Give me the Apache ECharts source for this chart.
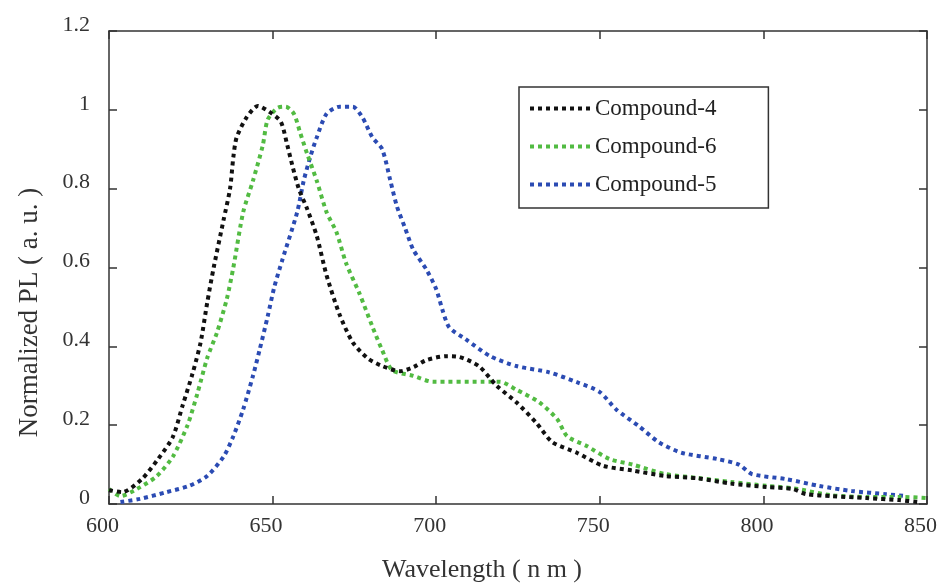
<!DOCTYPE html>
<html>
<head>
<meta charset="utf-8">
<script src="https://cdn.jsdelivr.net/npm/echarts@6/dist/echarts.min.js"></script>
<style>html,body{margin:0;padding:0;background:#fff;}#c{width:941px;height:588px;}</style>
</head>
<body>
<div id="c"></div>
<script>
const seriesNames = ['Compound-4', 'Compound-6', 'Compound-5'];
const xTicks = [600, 650, 700, 750, 800, 850];
const yTicks = [0, 0.2, 0.4, 0.6, 0.8, 1, 1.2];

const wl4 = [600, 604, 610, 615, 619.5, 622.5, 625.5, 628, 630, 632, 635, 637, 638, 639, 642, 645.5, 649, 652.5, 654.5, 656, 658, 660.5, 663.5, 666.5, 670.5, 674.5, 679, 683.5, 689, 693, 697, 703, 707, 713, 718.5, 724.5, 730.5, 735.5, 743, 751, 760, 770, 780, 790, 801, 809, 813, 821, 831.5, 841.5, 847];
const pl4 = [0.035, 0.03, 0.063, 0.114, 0.17, 0.25, 0.33, 0.41, 0.51, 0.6, 0.72, 0.8, 0.88, 0.93, 0.98, 1.01, 0.995, 0.97, 0.91, 0.86, 0.80, 0.75, 0.68, 0.58, 0.48, 0.41, 0.37, 0.35, 0.337, 0.347, 0.365, 0.375, 0.373, 0.35, 0.30, 0.258, 0.207, 0.157, 0.13, 0.097, 0.085, 0.071, 0.065, 0.052, 0.043, 0.038, 0.025, 0.02, 0.015, 0.01, 0.005];

const wl6 = [600, 603.5, 608.5, 614.5, 619.5, 624, 627, 630, 633, 636, 638, 641, 644, 647, 648.5, 651.5, 654, 656.5, 658.5, 660.5, 663.5, 666.5, 669.5, 672.5, 676.5, 680.5, 683.5, 686.5, 693, 699, 714, 719.5, 724.5, 731.5, 737, 740, 746, 753, 760, 770, 780, 790, 801, 809, 821, 832, 842, 850];
const pl6 = [0.038, 0.02, 0.038, 0.07, 0.12, 0.20, 0.28, 0.37, 0.435, 0.52, 0.60, 0.74, 0.82, 0.91, 0.975, 1.005, 1.008, 0.99, 0.94, 0.89, 0.82, 0.74, 0.69, 0.61, 0.535, 0.45, 0.39, 0.34, 0.325, 0.31, 0.31, 0.31, 0.29, 0.258, 0.215, 0.172, 0.147, 0.114, 0.1, 0.076, 0.066, 0.056, 0.046, 0.04, 0.022, 0.018, 0.018, 0.015];

const wl5 = [603.5, 609.5, 617.5, 624.5, 630, 635, 638, 641, 644, 646, 648.5, 650.5, 653, 657.5, 659.5, 661.5, 663.5, 666.5, 670.5, 674.5, 677.5, 680.5, 683.5, 686, 688, 690.5, 693, 697, 700, 702, 704, 709, 716.5, 724.5, 734.5, 743, 750, 755, 762, 768, 775, 786, 792.5, 796.5, 807, 817, 827, 837.5, 843.5];
const pl5 = [0.005, 0.013, 0.03, 0.046, 0.071, 0.12, 0.172, 0.24, 0.325, 0.39, 0.476, 0.55, 0.62, 0.74, 0.82, 0.88, 0.93, 0.99, 1.008, 1.008, 0.98, 0.93, 0.90, 0.82, 0.755, 0.70, 0.645, 0.595, 0.545, 0.49, 0.448, 0.418, 0.375, 0.35, 0.334, 0.309, 0.284, 0.24, 0.197, 0.157, 0.13, 0.114, 0.10, 0.076, 0.063, 0.046, 0.033, 0.025, 0.02];

const colors = ['#111111', '#52bb42', '#2b4bb3'];
const FONT = '"Liberation Serif", "Times New Roman", serif';
const TXT = '#333333';

function pairs(xs, ys) { return xs.map((x, i) => [x, ys[i]]); }
const allData = [pairs(wl4, pl4), pairs(wl6, pl6), pairs(wl5, pl5)];

const chart = echarts.init(document.getElementById('c'), null, {renderer: 'canvas'});
const axisLine = {show: true, onZero: false, lineStyle: {color: '#333', width: 1.5}};
const axisTick = {show: true, inside: true, length: 8, lineStyle: {color: '#333', width: 1.5}};
chart.setOption({
  backgroundColor: '#fff',
  animation: false,
  grid: {left: 109, right: 14, top: 31, bottom: 83, containLabel: false},
  legend: {
    orient: 'vertical', left: 519, top: 87,
    data: seriesNames,
    itemWidth: 60, itemHeight: 20, itemGap: 15,
    padding: [10, 52, 12, 9],
    borderColor: '#333', borderWidth: 1.5,
    lineStyle: {width: 4, type: 'dotted'},
    itemStyle: {opacity: 0},
    textStyle: {fontFamily: FONT, fontSize: 23, color: '#222', lineHeight: 20}
  },
  xAxis: [{
    type: 'value', min: 600, max: 850, interval: 50,
    name: 'Wavelength ( n m )', nameLocation: 'middle', nameGap: 53,
    nameTextStyle: {fontFamily: FONT, fontSize: 26, color: TXT, padding: [0, 72, 0, 0]},
    axisLine, axisTick,
    axisLabel: {margin: 11, fontFamily: FONT, fontSize: 22, color: TXT, padding: [0, 13, 0, 0]},
    splitLine: {show: false}
  }, {
    type: 'value', min: 600, max: 850, interval: 50, position: 'top',
    axisLine, axisTick, axisLabel: {show: false}, splitLine: {show: false}
  }],
  yAxis: [{
    type: 'value', min: 0, max: 1.2, interval: 0.2,
    name: 'Normalized PL ( a. u. )', nameLocation: 'middle', nameGap: 66,
    nameTextStyle: {fontFamily: FONT, fontSize: 27, color: TXT, padding: [0, 90, 0, 0]},
    axisLine, axisTick,
    axisLabel: {margin: 19, fontFamily: FONT, fontSize: 22, color: TXT,
      verticalAlign: 'bottom', lineHeight: 12,
      formatter: v => String(+v.toFixed(1))},
    splitLine: {show: false}
  }, {
    type: 'value', min: 0, max: 1.2, interval: 0.2, position: 'right',
    axisLine, axisTick, axisLabel: {show: false}, splitLine: {show: false}
  }],
  series: seriesNames.map((n, i) => ({
    name: n, type: 'line', data: allData[i], smooth: 0.25,
    symbol: 'none', color: colors[i],
    lineStyle: {color: colors[i], width: 4, type: 'dotted'},
    z: 3 - i
  }))
});
</script>
</body>
</html>
